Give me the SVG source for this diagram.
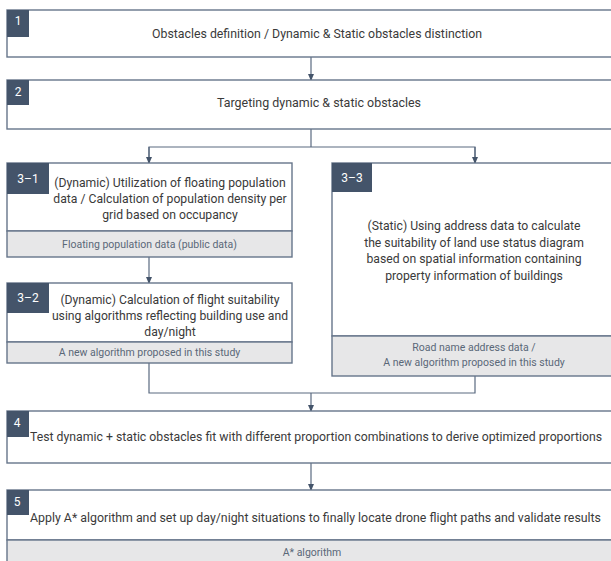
<svg xmlns="http://www.w3.org/2000/svg" width="611" height="561" viewBox="0 0 611 561">
<defs>
<style>
.box{fill:#ffffff;stroke:#66758a;stroke-width:1.4}
.band{fill:#e7e7e8;stroke:#66758a;stroke-width:1.4}
.badge{fill:#44546a}
.bl{font-family:Roboto,"Liberation Sans",sans-serif;font-size:12px;fill:#ffffff;text-anchor:middle}
.t{font-family:Roboto,"Liberation Sans",sans-serif;font-size:12.2px;fill:#3a3a3a;text-anchor:middle}
.tl{font-family:Roboto,"Liberation Sans",sans-serif;font-size:12px;fill:#3a3a3a}
.bt{font-family:Roboto,"Liberation Sans",sans-serif;font-size:10.5px;fill:#5a6878;text-anchor:middle}
.c{fill:none;stroke:#5a6a80;stroke-width:1.2}
</style>
<marker id="ah" viewBox="0 0 8 8" refX="7" refY="4" markerWidth="7" markerHeight="7" markerUnits="userSpaceOnUse" orient="auto">
<path d="M0,0.5 L8,4 L0,7.5 z" fill="#44546a"/>
</marker>
</defs>

<g id="connectors">
<line class="c" x1="311" y1="57" x2="311" y2="80" marker-end="url(#ah)"/>
<polyline class="c" points="311,129 311,147"/>
<polyline class="c" points="149,163 149,147 475,147 475,163"/>
<line class="c" x1="149" y1="147" x2="149" y2="163" marker-end="url(#ah)"/>
<line class="c" x1="475" y1="147" x2="475" y2="163" marker-end="url(#ah)"/>
<line class="c" x1="149" y1="257" x2="149" y2="283" marker-end="url(#ah)"/>
<polyline class="c" points="149,363 149,393 475,393 475,376"/>
<line class="c" x1="311" y1="393" x2="311" y2="411" marker-end="url(#ah)"/>
<line class="c" x1="311" y1="463" x2="311" y2="490" marker-end="url(#ah)"/>
</g>

<g id="node1">
<rect class="box" x="7" y="10" width="620" height="47"/>
<rect class="badge" x="7" y="10" width="22" height="27"/>
<text class="bl" x="18" y="25">1</text>
<text class="t" x="317" y="38" textLength="330" lengthAdjust="spacingAndGlyphs">Obstacles definition / Dynamic &amp; Static obstacles distinction</text>
</g>

<g id="node2">
<rect class="box" x="7" y="80" width="620" height="49"/>
<rect class="badge" x="7" y="80" width="22" height="25"/>
<text class="bl" x="18" y="96">2</text>
<text class="t" x="319" y="107" textLength="204" lengthAdjust="spacingAndGlyphs">Targeting dynamic &amp; static obstacles</text>
</g>

<g id="node3-1">
<rect class="box" x="7" y="163" width="285" height="68"/>
<rect class="band" x="7" y="231" width="285" height="26"/>
<rect class="badge" x="7" y="163" width="42" height="31"/>
<text class="bl" x="28" y="183">3–1</text>
<text class="t" x="170" y="187">(Dynamic) Utilization of floating population</text>
<text class="t" x="170" y="203">data / Calculation of population density per</text>
<text class="t" x="170" y="219">grid based on occupancy</text>
<text class="bt" x="149.5" y="247.5">Floating population data (public data)</text>
</g>

<g id="node3-2">
<rect class="box" x="7" y="283" width="285" height="59"/>
<rect class="band" x="7" y="342" width="285" height="21"/>
<rect class="badge" x="7" y="283" width="42" height="30"/>
<text class="bl" x="28" y="302">3–2</text>
<text class="t" x="170" y="304">(Dynamic) Calculation of flight suitability</text>
<text class="t" x="170" y="320">using algorithms reflecting building use and</text>
<text class="t" x="170" y="336">day/night</text>
<text class="bt" x="149.5" y="356">A new algorithm proposed in this study</text>
</g>

<g id="node3-3">
<rect class="box" x="332" y="163" width="290" height="173"/>
<rect class="band" x="332" y="336" width="290" height="40"/>
<rect class="badge" x="332" y="163" width="40" height="29"/>
<text class="bl" x="352" y="182">3–3</text>
<text class="t" x="474" y="230">(Static) Using address data to calculate</text>
<text class="t" x="474" y="247">the suitability of land use status diagram</text>
<text class="t" x="474" y="263">based on spatial information containing</text>
<text class="t" x="474" y="280">property information of buildings</text>
<text class="bt" x="474" y="351">Road name address data /</text>
<text class="bt" x="474" y="366">A new algorithm proposed in this study</text>
</g>

<g id="node4">
<rect class="box" x="7" y="411" width="620" height="52"/>
<rect class="badge" x="7" y="411" width="22" height="26"/>
<text class="bl" x="17" y="427">4</text>
<text class="tl" x="30" y="441" textLength="572" lengthAdjust="spacingAndGlyphs">Test dynamic + static obstacles fit with different proportion combinations to derive optimized proportions</text>
</g>

<g id="node5">
<rect class="box" x="7" y="490" width="620" height="50"/>
<rect class="band" x="7" y="540" width="620" height="30"/>
<rect class="badge" x="7" y="490" width="22" height="25"/>
<text class="bl" x="17" y="506">5</text>
<text class="tl" x="30" y="522" textLength="571" lengthAdjust="spacingAndGlyphs">Apply A* algorithm and set up day/night situations to finally locate drone flight paths and validate results</text>
<text class="bt" x="312" y="556">A* algorithm</text>
</g>
</svg>
